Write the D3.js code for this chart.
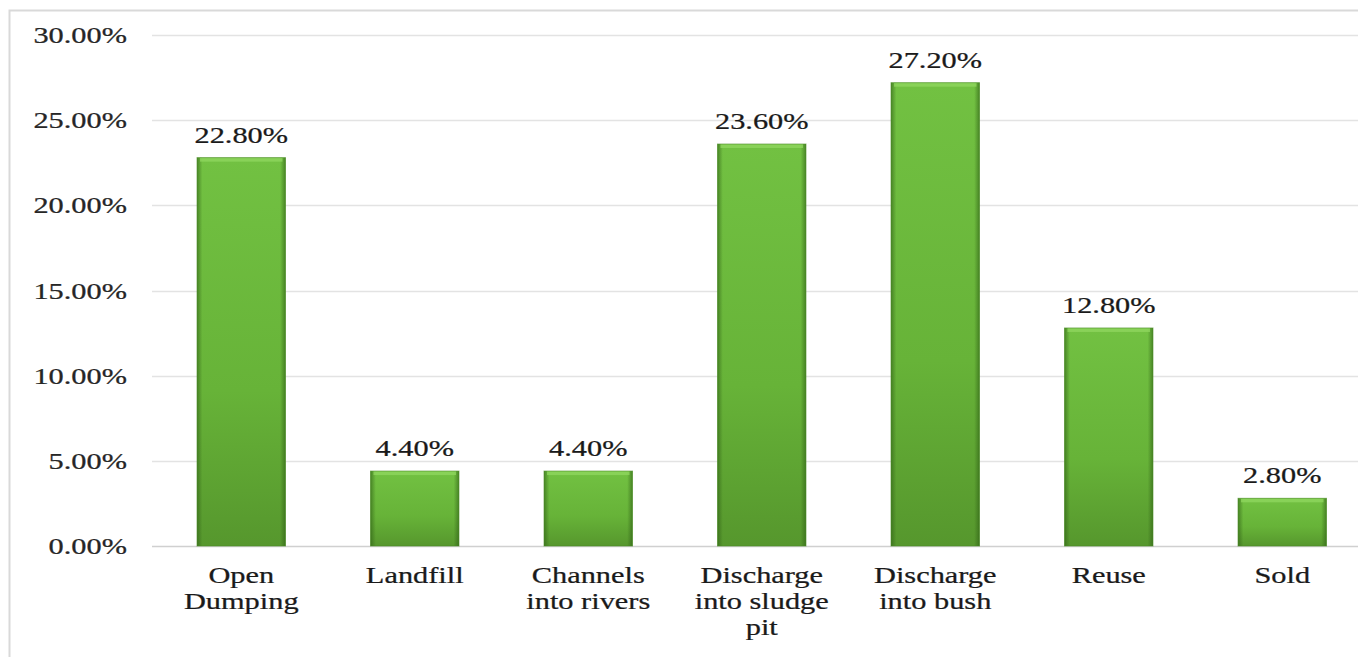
<!DOCTYPE html>
<html><head><meta charset="utf-8">
<script src="https://cdn.jsdelivr.net/npm/d3@7"></script>
<style>html,body{margin:0;padding:0;background:#fff;overflow:hidden} text{font-family:"Liberation Serif","Times New Roman",serif}</style>
</head><body>
<svg id="chart" width="1358" height="657"></svg>
<script>
const categories = [["Open","Dumping"],["Landfill"],["Channels","into rivers"],["Discharge","into sludge","pit"],["Discharge","into bush"],["Reuse"],["Sold"]];
const values = [22.8, 4.4, 4.4, 23.6, 27.2, 12.8, 2.8];
const yTicks = [0, 5, 10, 15, 20, 25, 30];

const svg = d3.select("#chart");
const W = 1358, H = 657;
const SX = 1.32; // horizontal stretch of text in the reference

// frame
svg.append("path").attr("d", `M9.5,${H} V10.5 H${W}`).attr("fill","none").attr("stroke","#d9d9d9").attr("stroke-width",2);

const x = d3.scaleBand().domain(d3.range(categories.length)).range([154.5, 1369]).paddingInner(0.49).paddingOuter(0.245);
const y = d3.scaleLinear().domain([0, 30]).range([546, 35]);

const defs = svg.append("defs");
const gv = defs.append("linearGradient").attr("id","gv").attr("x1",0).attr("y1",0).attr("x2",0).attr("y2",1);
gv.append("stop").attr("offset","0%").attr("stop-color","#72c142");
gv.append("stop").attr("offset","60%").attr("stop-color","#67b338");
gv.append("stop").attr("offset","100%").attr("stop-color","#56972d");
const gh = defs.append("linearGradient").attr("id","gh").attr("x1",0).attr("y1",0).attr("x2",1).attr("y2",0);
gh.append("stop").attr("offset","0%").attr("stop-color","#2e5e15").attr("stop-opacity",0.6);
gh.append("stop").attr("offset","6%").attr("stop-color","#2e5e15").attr("stop-opacity",0);
gh.append("stop").attr("offset","94%").attr("stop-color","#2e5e15").attr("stop-opacity",0);
gh.append("stop").attr("offset","100%").attr("stop-color","#2e5e15").attr("stop-opacity",0.6);

// gridlines
svg.append("g").selectAll("line").data(yTicks).join("line")
  .attr("x1",152).attr("x2",W).attr("y1",d=>Math.round(y(d))+0.5).attr("y2",d=>Math.round(y(d))+0.5)
  .attr("stroke", d=> d===0 ? "#d0d0d0" : "#e3e3e3").attr("stroke-width",1.5);

// y tick labels
svg.append("g").selectAll("text").data(yTicks).join("text")
  .attr("transform", d=>`translate(127,${y(d)+8}) scale(${SX},1)`)
  .attr("text-anchor","end").attr("font-size",23).attr("fill","#262626")
  .attr("stroke","#262626").attr("stroke-width",0.25)
  .text(d=>d.toFixed(2)+"%");

// bars
const bars = svg.append("g").selectAll("g").data(values).join("g");
bars.append("rect").attr("x",(d,i)=>x(i)).attr("width",x.bandwidth())
  .attr("y",d=>y(d)).attr("height",d=>y(0)-y(d)).attr("fill","url(#gv)");
bars.append("rect").attr("x",(d,i)=>x(i)).attr("width",x.bandwidth())
  .attr("y",d=>y(d)).attr("height",d=>y(0)-y(d)).attr("fill","url(#gh)");
bars.append("rect").attr("x",(d,i)=>x(i)+3).attr("width",x.bandwidth()-6)
  .attr("y",d=>y(d)).attr("height",4).attr("fill","#8fd65e").attr("opacity",0.8);
bars.append("rect").attr("x",(d,i)=>x(i)).attr("width",x.bandwidth())
  .attr("y",d=>y(d)).attr("height",d=>y(0)-y(d)).attr("fill","none").attr("stroke","#4a8a25").attr("stroke-width",1).attr("opacity",0.6);

// value labels
svg.append("g").selectAll("text").data(values).join("text")
  .attr("transform",(d,i)=>`translate(${x(i)+x.bandwidth()/2},${y(d)-15}) scale(${SX},1)`)
  .attr("text-anchor","middle").attr("font-size",23).attr("fill","#1a1a1a")
  .attr("stroke","#1a1a1a").attr("stroke-width",0.25)
  .text(d=>d.toFixed(2)+"%");

// category labels
const cat = svg.append("g").selectAll("g").data(categories).join("g");
cat.each(function(lines,i){
  d3.select(this).selectAll("text").data(lines).join("text")
    .attr("transform",(t,j)=>`translate(${x(i)+x.bandwidth()/2},${583+j*26}) scale(${SX},1)`)
    .attr("text-anchor","middle").attr("font-size",23).attr("fill","#1a1a1a")
    .attr("stroke","#1a1a1a").attr("stroke-width",0.25)
    .text(t=>t);
});
</script>
</body></html>
